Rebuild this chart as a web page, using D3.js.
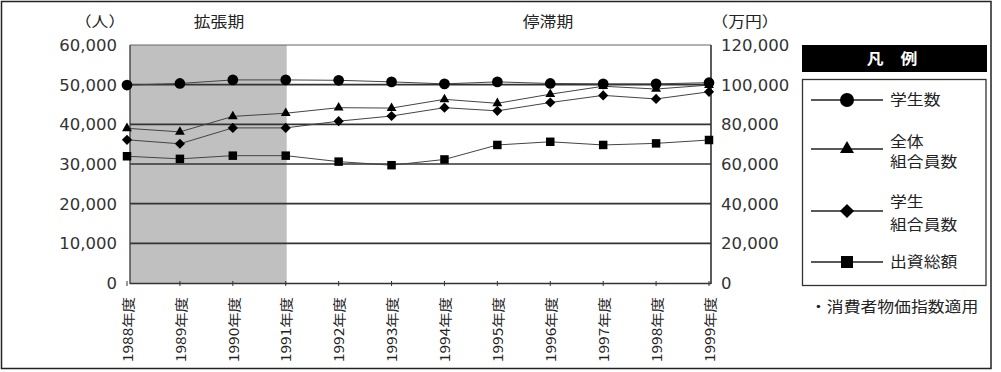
<!DOCTYPE html>
<html><head><meta charset="utf-8">
<script src="https://cdn.jsdelivr.net/npm/d3@7"></script>
<style>body{margin:0;background:#fff}svg{display:block}</style>
</head><body><svg id="c" width="1001" height="372"></svg>
<script>
// ---- data ----
const years = ["1988","1989","1990","1991","1992","1993","1994","1995","1996","1997","1998","1999"];
const yearSuffix = "年度";
const students       = [49900, 50300, 51200, 51200, 51100, 50700, 50200, 50700, 50300, 50200, 50200, 50500];
const allMembers     = [39000, 38100, 42000, 42800, 44200, 44100, 46300, 45300, 47600, 49600, 48900, 49900];
const studentMembers = [36100, 35100, 39100, 39100, 40800, 42100, 44200, 43400, 45500, 47300, 46400, 48200];
const investment     = [63900, 62600, 64200, 64200, 61200, 59400, 62300, 69600, 71200, 69600, 70400, 72100];
const leftTicks  = [0, 10000, 20000, 30000, 40000, 50000, 60000];
const rightTicks = [0, 20000, 40000, 60000, 80000, 100000, 120000];
const periodLabels = ["拡張期", "停滞期"];
const expansionStart = "1988", expansionEnd = "1991";
const leftUnit = "（人）", rightUnit = "（万円）";
const legendTitle = "凡　例";
const seriesNames = [["学生数"], ["全体", "組合員数"], ["学生", "組合員数"], ["出資総額"]];
const note = "・消費者物価指数適用";

// ---- layout ----
const svg = d3.select("#c");
const frame = {l: 130, r: 711, t: 45, b: 283};
const x = d3.scalePoint().domain(years).range([127, 709]);
const yL = d3.scaleLinear().domain([0, 60000]).range([frame.b, frame.t]);
const yR = d3.scaleLinear().domain([0, 120000]).range([frame.b, frame.t]);
const fmt = d3.format(",");
const NUMFONT = "'DejaVu Sans', sans-serif";
const CJK = "'Noto Sans CJK JP', sans-serif";
const K = 1.16;
function stretch(sel, k) {
  sel.each(function(){ const n = this.getComputedTextLength(); this.setAttribute("textLength", n * k); this.setAttribute("lengthAdjust", "spacingAndGlyphs"); });
  return sel;
}

// outer border
svg.append("rect").attr("x", 1.5).attr("y", 1.5).attr("width", 989.5).attr("height", 367)
  .attr("fill", "#fff").attr("stroke", "#222").attr("stroke-width", 1.5);

// shaded expansion period
svg.append("rect").attr("x", frame.l).attr("y", frame.t)
  .attr("width", x(expansionEnd) - frame.l + 1).attr("height", frame.b - frame.t)
  .attr("fill", "#c0c0c0");

// gridlines
svg.append("g").selectAll("line").data(leftTicks.filter(d => d > 0 && d < 60000)).join("line")
  .attr("x1", frame.l).attr("x2", frame.r).attr("y1", d => yL(d)).attr("y2", d => yL(d))
  .attr("stroke", "#333").attr("stroke-width", 1.6);

// frame
svg.append("line").attr("x1", frame.l).attr("x2", frame.r).attr("y1", frame.t).attr("y2", frame.t).attr("stroke", "#666").attr("stroke-width", 1);
svg.append("line").attr("x1", frame.l).attr("x2", frame.l).attr("y1", frame.t).attr("y2", frame.b + 1).attr("stroke", "#444").attr("stroke-width", 1.4);
svg.append("line").attr("x1", frame.r).attr("x2", frame.r).attr("y1", frame.t).attr("y2", frame.b + 1).attr("stroke", "#333").attr("stroke-width", 1.6);
svg.append("line").attr("x1", frame.l).attr("x2", frame.r).attr("y1", frame.b + 0.5).attr("y2", frame.b + 0.5).attr("stroke", "#333").attr("stroke-width", 1.6);

// x ticks + labels
const xg = svg.append("g");
xg.selectAll("line").data(years).join("line")
  .attr("x1", d => x(d)).attr("x2", d => x(d)).attr("y1", frame.b - 2).attr("y2", frame.b + 3)
  .attr("stroke", "#333").attr("stroke-width", 1);
xg.selectAll("text").data(years).join("text")
  .attr("transform", d => `translate(${x(d) + 1},297) rotate(-90)`)
  .attr("text-anchor", "end").attr("dy", "0.36em")
  .attr("font-family", CJK).attr("font-size", 13).attr("fill", "#222")
  .attr("textLength", 65).attr("lengthAdjust", "spacingAndGlyphs")
  .text(d => d + yearSuffix);

// left axis labels
svg.append("g").selectAll("text").data(leftTicks).join("text")
  .attr("x", 117).attr("y", d => yL(d)).attr("dy", "0.36em").attr("text-anchor", "end")
  .attr("font-family", NUMFONT).attr("font-size", 16.5).attr("fill", "#333")
  .text(d => fmt(d));
// right axis labels
svg.append("g").selectAll("text").data(rightTicks).join("text")
  .attr("x", 721).attr("y", d => yR(d)).attr("dy", "0.36em").attr("text-anchor", "start")
  .attr("font-family", NUMFONT).attr("font-size", 16.5).attr("fill", "#333")
  .text(d => fmt(d));

// top labels
function cjkText(g, txt, xx, yy, anchor, size, weight, fill) {
  const t = g.append("text").attr("x", xx).attr("y", yy).attr("dy", "0.36em")
    .attr("text-anchor", anchor).attr("font-family", CJK).attr("font-size", size || 14.5)
    .attr("font-weight", weight || "normal").attr("fill", fill || "#222").text(txt);
  stretch(t, K);
  return t;
}
cjkText(svg, leftUnit, 100, 22, "middle");
cjkText(svg, periodLabels[0], 219, 22, "middle");
cjkText(svg, periodLabels[1], 548, 22, "middle");
cjkText(svg, rightUnit, 745, 22, "middle");

// symbols
const symCircle = s => d3.symbol().type(d3.symbolCircle).size(s)();
const symTri = s => d3.symbol().type(d3.symbolTriangle).size(s)();
const symSq = s => d3.symbol().type(d3.symbolSquare).size(s)();
const series = [
  {vals: investment, y: yR, sym: symSq, size: 72, lsize: 144, rot: 0},
  {vals: studentMembers, y: yL, sym: symSq, size: 52, lsize: 100, rot: 45},
  {vals: allMembers, y: yL, sym: symTri, size: 42, lsize: 85, rot: 0},
  {vals: students, y: yL, sym: symCircle, size: 90, lsize: 155, rot: 0}
];
const line = d3.line();
series.forEach(s => {
  svg.append("path")
    .attr("d", line(s.vals.map((v, i) => [x(years[i]), s.y(v)])))
    .attr("fill", "none").attr("stroke", "#444").attr("stroke-width", 1);
});
series.forEach(s => {
  svg.append("g").selectAll("path").data(s.vals).join("path")
    .attr("transform", (v, i) => `translate(${x(years[i])},${s.y(v)}) rotate(${s.rot})`)
    .attr("d", s.sym(s.size)).attr("fill", "#000");
});

// legend
const lg = svg.append("g");
lg.append("rect").attr("x", 802).attr("y", 45).attr("width", 185).attr("height", 27).attr("fill", "#000");
cjkText(lg, legendTitle, 892, 58.5, "middle", 14.5, "bold", "#fff");
lg.append("rect").attr("x", 802.5).attr("y", 79.5).attr("width", 183.5).attr("height", 206)
  .attr("fill", "none").attr("stroke", "#333").attr("stroke-width", 1.3);
const legendY = [100, 149, 211, 262];
const legendLabelY = [[100], [141.5, 162], [201.5, 225], [262]];
const legendOrder = [3, 2, 1, 0]; // series index for each legend entry
legendOrder.forEach((si, k) => {
  const s = series[si];
  lg.append("line").attr("x1", 811).attr("x2", 883).attr("y1", legendY[k]).attr("y2", legendY[k])
    .attr("stroke", "#222").attr("stroke-width", 1.3);
  lg.append("path").attr("transform", `translate(847,${legendY[k]}) rotate(${s.rot})`)
    .attr("d", s.sym(s.lsize)).attr("fill", "#000");
  seriesNames[k].forEach((t, j) => cjkText(lg, t, 890, legendLabelY[k][j], "start"));
});
cjkText(svg, note, 810, 307, "start");
</script>
</body></html>
